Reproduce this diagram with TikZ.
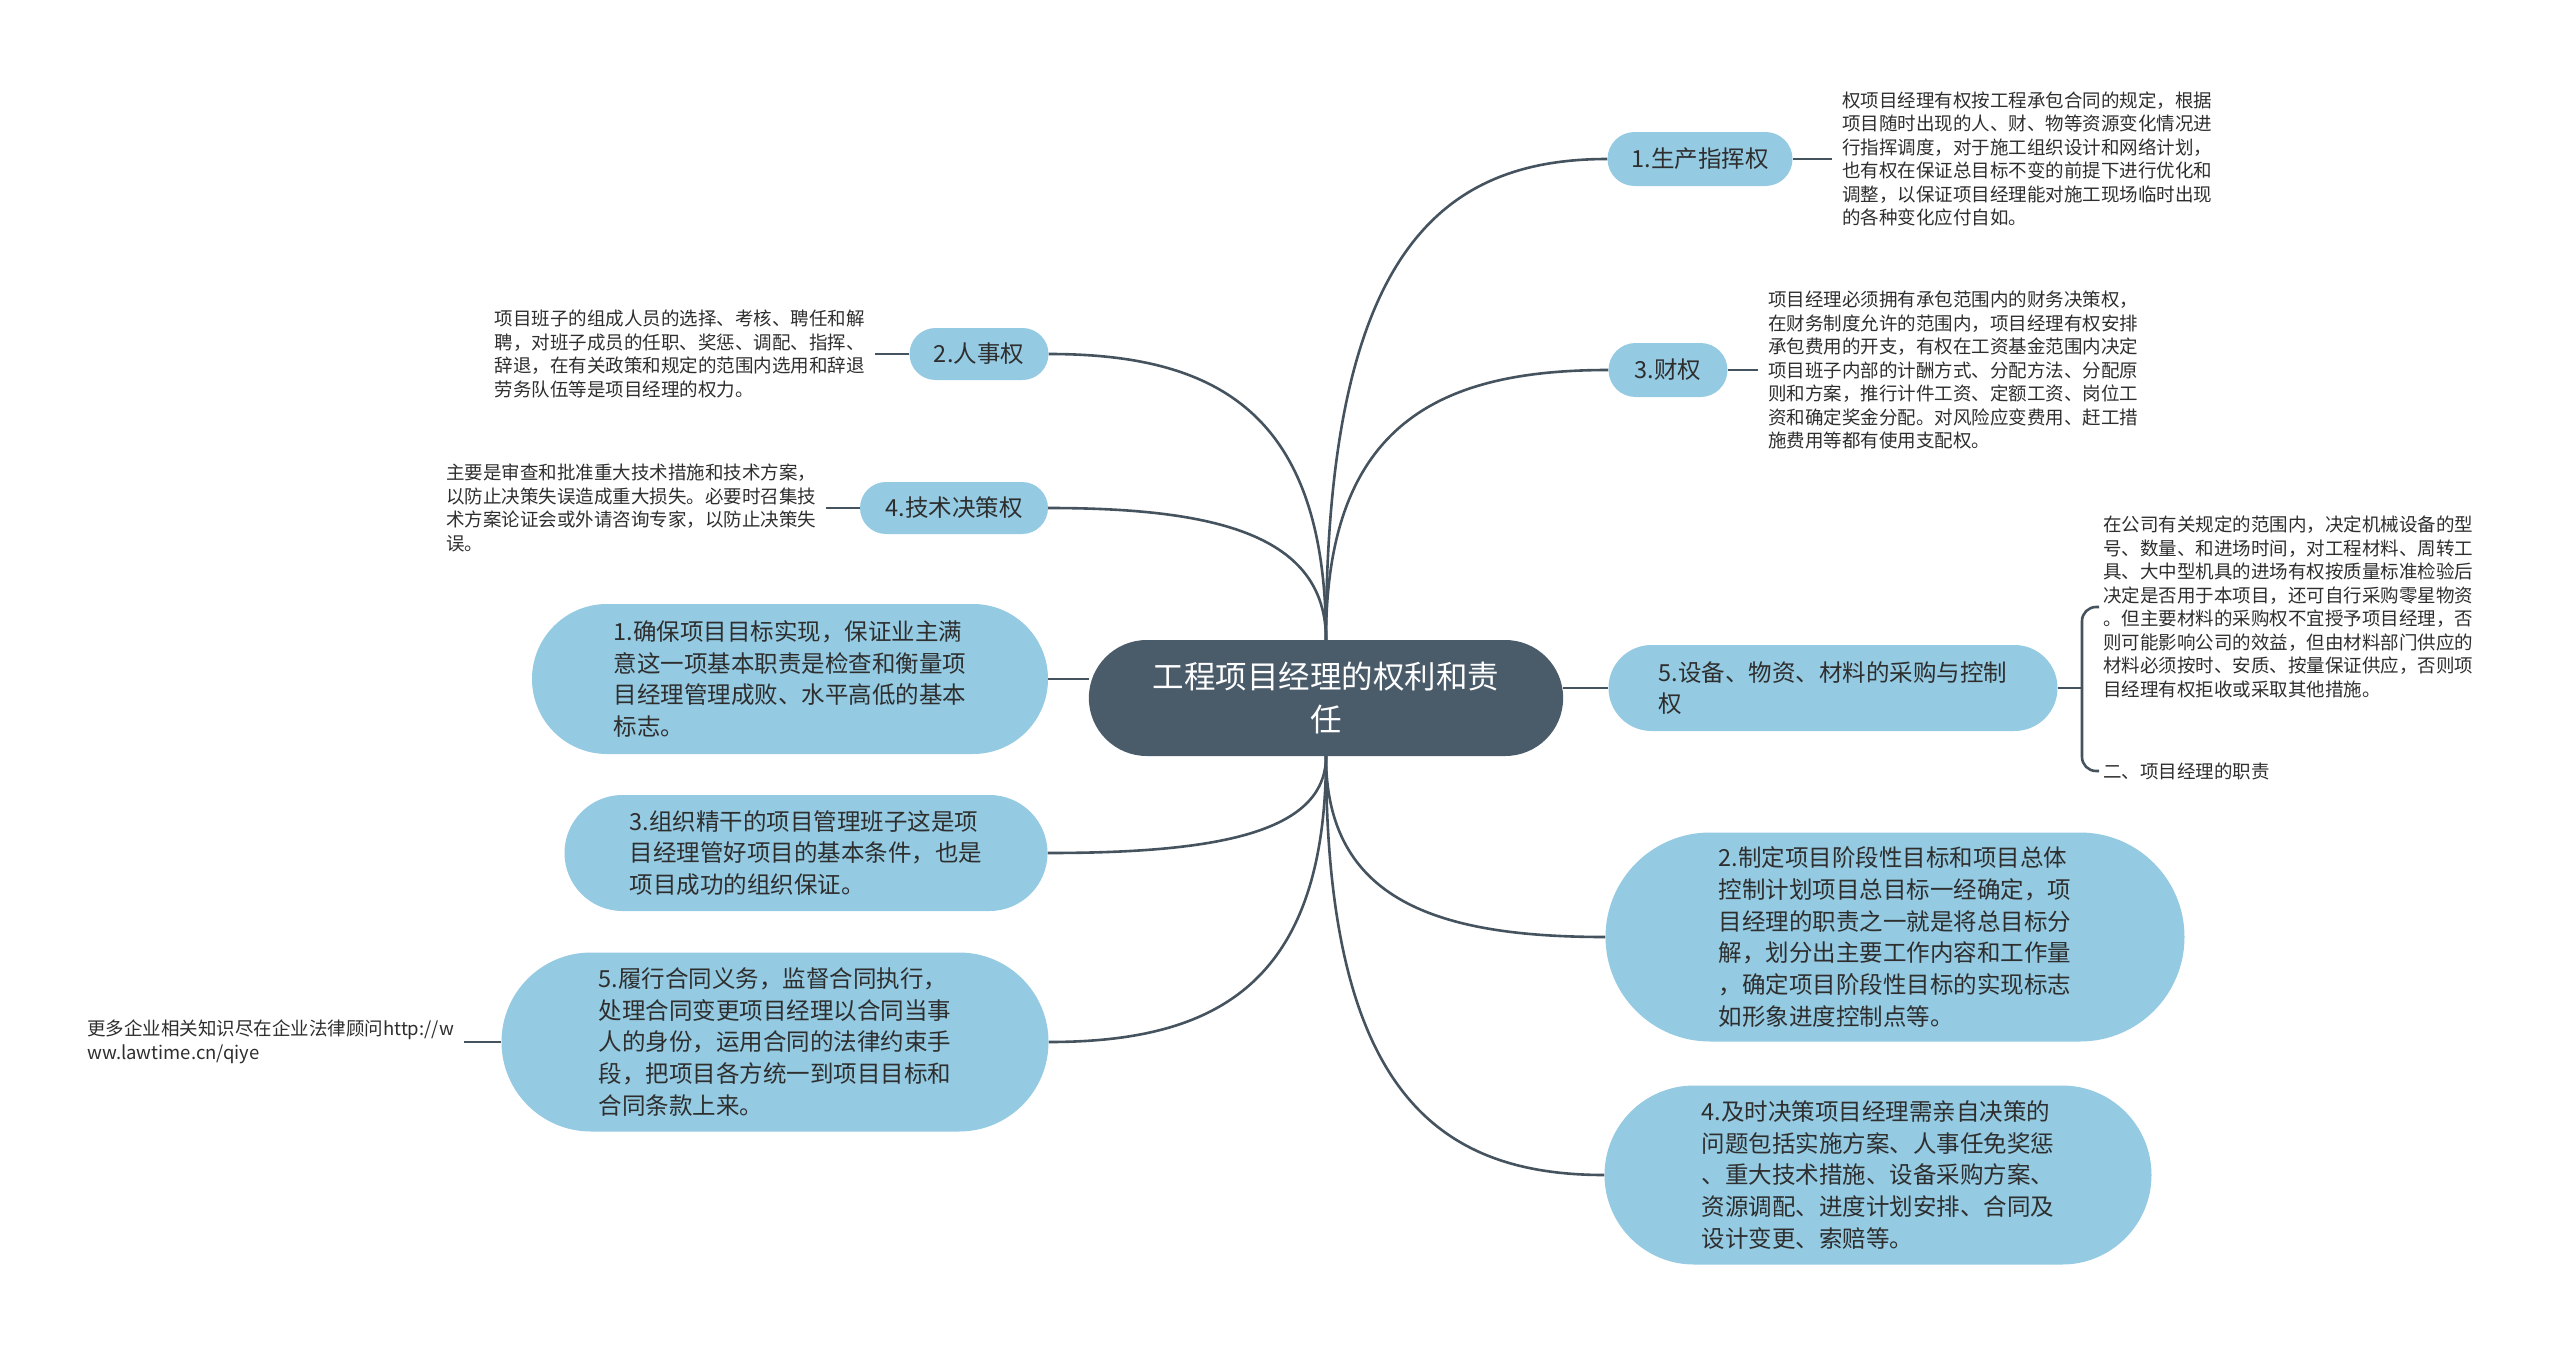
\documentclass[tikz,border=0pt]{standalone}
\usepackage{fontspec}
\setmainfont{Noto Sans CJK SC}
\usepackage{tikz}
\usetikzlibrary{shapes.misc,calc,backgrounds}
\definecolor{rootfill}{HTML}{4A5B6A}
\definecolor{leafblue}{HTML}{94CAE2}
\definecolor{linkgray}{HTML}{45535F}
\definecolor{textdark}{HTML}{2E2E2E}

\begin{document}
\begin{tikzpicture}[x=1pt, y=-1pt,
          root/.style={rounded rectangle, fill=rootfill, text=white, align=center,
                       font=\fontsize{31.5}{42.5}\selectfont,
                       minimum width=481pt, minimum height=116pt},
          topic/.style={rounded rectangle, fill=leafblue, text=textdark, align=left,
                        font=\fontsize{23.5}{31.7}\selectfont, inner xsep=0pt},
          note/.style={align=left, text=textdark, inner sep=0pt,
                       font=\fontsize{18.5}{23.5}\selectfont},
          link/.style={draw=linkgray, line width=2.6pt},
          branch/.style={link, to path={.. controls ($(\tikztostart)!0.8!(\tikztostart|-\tikztotarget)$)
                         and ($(\tikztostart|-\tikztotarget)!0.4!(\tikztotarget)$) .. (\tikztotarget)}}
        ]
        \useasboundingbox (0,0) rectangle (2560,1346);

        \node[root] (root) at (1326,698) {工程项目经理的权利和责\\任};

        % Rights, right side
        \node[topic, minimum width=185pt, minimum height=54pt] (prod) at (1700,159) {1.生产指挥权};
        \node[note, anchor=west] (prodnote) at (1842,159)
          {权项目经理有权按工程承包合同的规定，根据\\项目随时出现的人、财、物等资源变化情况进\\行指挥调度，对于施工组织设计和网络计划，\\也有权在保证总目标不变的前提下进行优化和\\调整，以保证项目经理能对施工现场临时出现\\的各种变化应付自如。};
        \node[topic, minimum width=119pt, minimum height=54pt] (fin) at (1668,370) {3.财权};
        \node[note, anchor=west] (finnote) at (1768,370)
          {项目经理必须拥有承包范围内的财务决策权，\\在财务制度允许的范围内，项目经理有权安排\\承包费用的开支，有权在工资基金范围内决定\\项目班子内部的计酬方式、分配方法、分配原\\则和方案，推行计件工资、定额工资、岗位工\\资和确定奖金分配。对风险应变费用、赶工措\\施费用等都有使用支配权。};
        \node[topic, minimum width=449pt, minimum height=86pt] (equip) at (1833,688)
          {5.设备、物资、材料的采购与控制\\权};
        \node[note, anchor=west] (equipnote) at (2103,607)
          {在公司有关规定的范围内，决定机械设备的型\\号、数量、和进场时间，对工程材料、周转工\\具、大中型机具的进场有权按质量标准检验后\\决定是否用于本项目，还可自行采购零星物资\\。但主要材料的采购权不宜授予项目经理，否\\则可能影响公司的效益，但由材料部门供应的\\材料必须按时、安质、按量保证供应，否则项\\目经理有权拒收或采取其他措施。};
        \node[note, anchor=west] (duty) at (2103,771) {二、项目经理的职责};
        \coordinate (brace) at (2082,688);

        % Rights, left side
        \node[topic, minimum width=139pt, minimum height=52pt] (staff) at (979,354) {2.人事权};
        \node[note, anchor=east] (staffnote) at (865,354)
          {项目班子的组成人员的选择、考核、聘任和解\\聘，对班子成员的任职、奖惩、调配、指挥、\\辞退，在有关政策和规定的范围内选用和辞退\\劳务队伍等是项目经理的权力。};
        \node[topic, minimum width=188pt, minimum height=52pt] (tech) at (954,508) {4.技术决策权};
        \node[note, anchor=west] (technote) at (446,508)
          {主要是审查和批准重大技术措施和技术方案，\\以防止决策失误造成重大损失。必要时召集技\\术方案论证会或外请咨询专家，以防止决策失\\误。};

        % Duties
        \node[topic, minimum width=516pt, minimum height=150pt] (goal) at (790,679)
          {1.确保项目目标实现，保证业主满\\意这一项基本职责是检查和衡量项\\目经理管理成败、水平高低的基本\\标志。};
        \node[topic, minimum width=483pt, minimum height=116pt] (team) at (806,853)
          {3.组织精干的项目管理班子这是项\\目经理管好项目的基本条件，也是\\项目成功的组织保证。};
        \node[topic, minimum width=547pt, minimum height=179pt] (contract) at (775,1042)
          {5.履行合同义务，监督合同执行，\\处理合同变更项目经理以合同当事\\人的身份，运用合同的法律约束手\\段，把项目各方统一到项目目标和\\合同条款上来。};
        \node[note, anchor=west] (lawnote) at (87,1042)
          {更多企业相关知识尽在企业法律顾问http://w\\ww.lawtime.cn/qiye};
        \node[topic, minimum width=579pt, minimum height=209pt] (plan) at (1895,937)
          {2.制定项目阶段性目标和项目总体\\控制计划项目总目标一经确定，项\\目经理的职责之一就是将总目标分\\解，划分出主要工作内容和工作量\\，确定项目阶段性目标的实现标志\\如形象进度控制点等。};
        \node[topic, minimum width=547pt, minimum height=179pt] (decide) at (1878,1175)
          {4.及时决策项目经理需亲自决策的\\问题包括实施方案、人事任免奖惩\\、重大技术措施、设备采购方案、\\资源调配、进度计划安排、合同及\\设计变更、索赔等。};

        \begin{pgfonlayer}{background}
          \draw[branch] (root.north) to (prod.west);
          \draw[branch] (root.north) to (fin.west);
          \draw[branch] (root.north) to (staff.east);
          \draw[branch] (root.north) to (tech.east);
          \draw[branch] (root.south) to (plan.west);
          \draw[branch] (root.south) to (decide.west);
          \draw[branch] (root.south) to (team.east);
          \draw[branch] (root.south) to (contract.east);
          \draw[link] (goal.east) -- (goal.east -| root.west);
          \draw[link] (equip.west -| root.east) -- (equip.west);

          \draw[link, shorten >=10pt] (prod.east) -- (prodnote.west |- prod.east);
          \draw[link, shorten >=10pt] (fin.east) -- (finnote.west |- fin.east);
          \draw[link, shorten >=10pt] (staff.west) -- (staffnote.east |- staff.west);
          \draw[link, shorten >=10pt] (tech.west) -- (technote.east |- tech.west);
          \draw[link, shorten >=10pt] (contract.west) -- (lawnote.east |- contract.west);
          \draw[link] (equip.east) -- (brace);
          \draw[link, rounded corners=14pt, shorten <=4pt, shorten >=4pt]
            (equipnote.west) -| (brace) |- (duty.west);
        \end{pgfonlayer}
      \end{tikzpicture}
\end{document}
